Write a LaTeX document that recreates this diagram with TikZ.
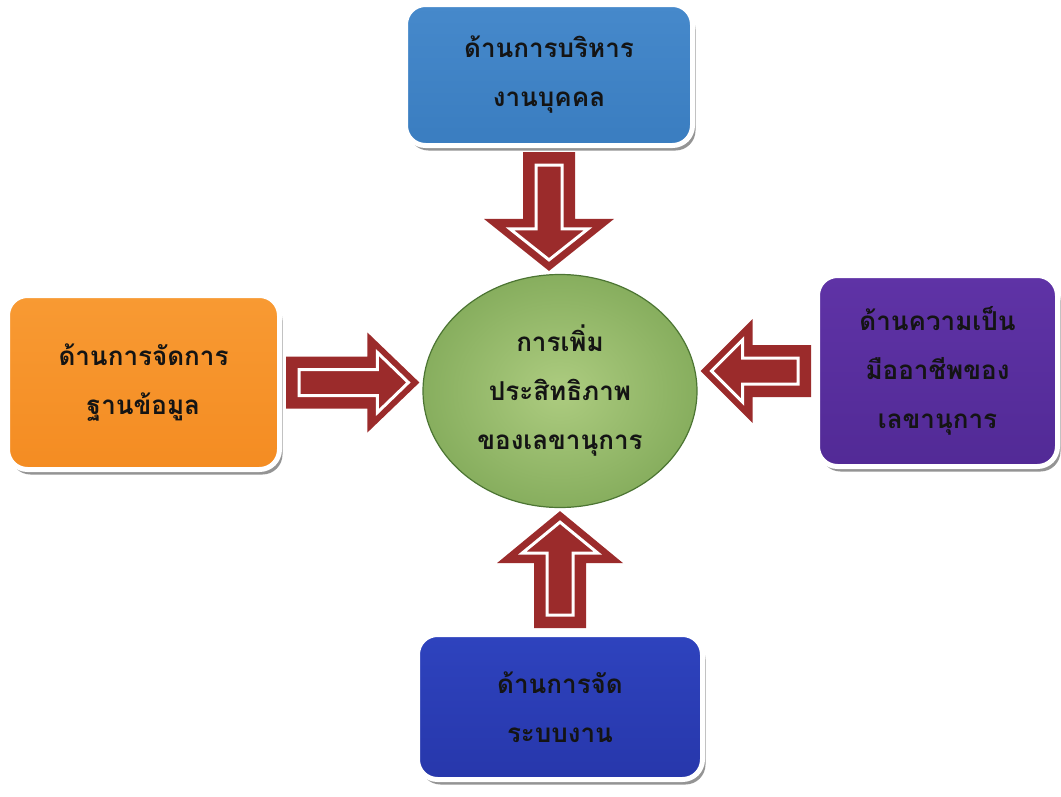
\documentclass[tikz,border=0pt]{standalone}
\usepackage{fontspec}
\newfontfamily\thaifont[Script=Thai]{Loma}
\usetikzlibrary{shapes.geometric,shadows,calc}
\definecolor{arrowred}{HTML}{9B2B2B}
\definecolor{textdark}{HTML}{141414}
\definecolor{hrtop}{HTML}{4689CB}
\definecolor{hrbot}{HTML}{3A7DC0}
\definecolor{dbtop}{HTML}{F89A33}
\definecolor{dbbot}{HTML}{F48C22}
\definecolor{proftop}{HTML}{5F33A6}
\definecolor{profbot}{HTML}{522A96}
\definecolor{systop}{HTML}{2E43BE}
\definecolor{sysbot}{HTML}{2737AB}
\definecolor{goalin}{HTML}{ADCC80}
\definecolor{goalout}{HTML}{87AE5E}
\definecolor{goaledge}{HTML}{4C7533}
\newcommand\bigarrow[3]{%
  \path (#1) coordinate (s0) (#2) coordinate (t0);
  \path ($(s0)!4pt!(t0)$) coordinate (s) ($(t0)!3pt!(s0)$) coordinate (t);
  \path ($(t)!52pt!(s)$) coordinate (b) ($(s)!13pt!(t)$) coordinate (si)
    ($(t)!42pt!(s)$) coordinate (bi) ($(t)!11pt!(s)$) coordinate (ti);
  \fill[arrowred] ($(s)!26pt!90:(t)$) -- ($(b)!26pt!90:(t)$) -- ($(b)!#3pt!90:(t)$) -- (t)
    -- ($(b)!#3pt!-90:(t)$) -- ($(b)!26pt!-90:(t)$) -- ($(s)!26pt!-90:(t)$) -- cycle;
  \draw[white,line width=3pt,line join=miter] ($(si)!13pt!90:(t)$) -- ($(bi)!13pt!90:(t)$)
    -- ($(bi)!{0.6*#3pt}!90:(t)$) -- (ti) -- ($(bi)!{0.6*#3pt}!-90:(t)$)
    -- ($(bi)!13pt!-90:(t)$) -- ($(si)!13pt!-90:(t)$) -- cycle;
}
\begin{document}
\begin{tikzpicture}[x=1pt,y=-1pt,line join=round,
  box/.style={rounded corners=20pt,draw=white,line width=5pt,align=center,text=textdark,
    font=\thaifont\bfseries\fontsize{26}{49}\selectfont,
    drop shadow={shadow xshift=3pt,shadow yshift=-5pt,fill=black!60,opacity=.7}},
  goalstyle/.style={ellipse,draw=goaledge,line width=1.2pt,inner color=goalin,outer color=goalout,
    align=center,text=textdark,font=\thaifont\bfseries\fontsize{26}{49}\selectfont}]
\useasboundingbox (0,0) rectangle (1061,796);
\node[box,top color=hrtop,bottom color=hrbot,minimum width=287,minimum height=141] (hr) at (549,75) {ด้านการบริหาร\\งานบุคคล};
\node[box,top color=dbtop,bottom color=dbbot,minimum width=272,minimum height=174] (db) at (143.5,382.5) {ด้านการจัดการ\\ฐานข้อมูล};
\node[box,top color=proftop,bottom color=profbot,minimum width=240,minimum height=191] (prof) at (937.5,371) {ด้านความเป็น\\มืออาชีพของ\\เลขานุการ};
\node[box,top color=systop,bottom color=sysbot,minimum width=285,minimum height=145] (sys) at (560,707) {ด้านการจัด\\ระบบงาน};
\node[goalstyle,minimum width=274,minimum height=233] (goal) at (560,391) {การเพิ่ม\\ประสิทธิภาพ\\ของเลขานุการ};
\bigarrow{hr.south}{hr.south |- goal.north}{65}
\bigarrow{sys.north}{sys.north |- goal.south}{63}
\bigarrow{db.east}{db.east -| goal.west}{50}
\bigarrow{prof.west}{prof.west -| goal.east}{52}
\end{tikzpicture}
\end{document}
